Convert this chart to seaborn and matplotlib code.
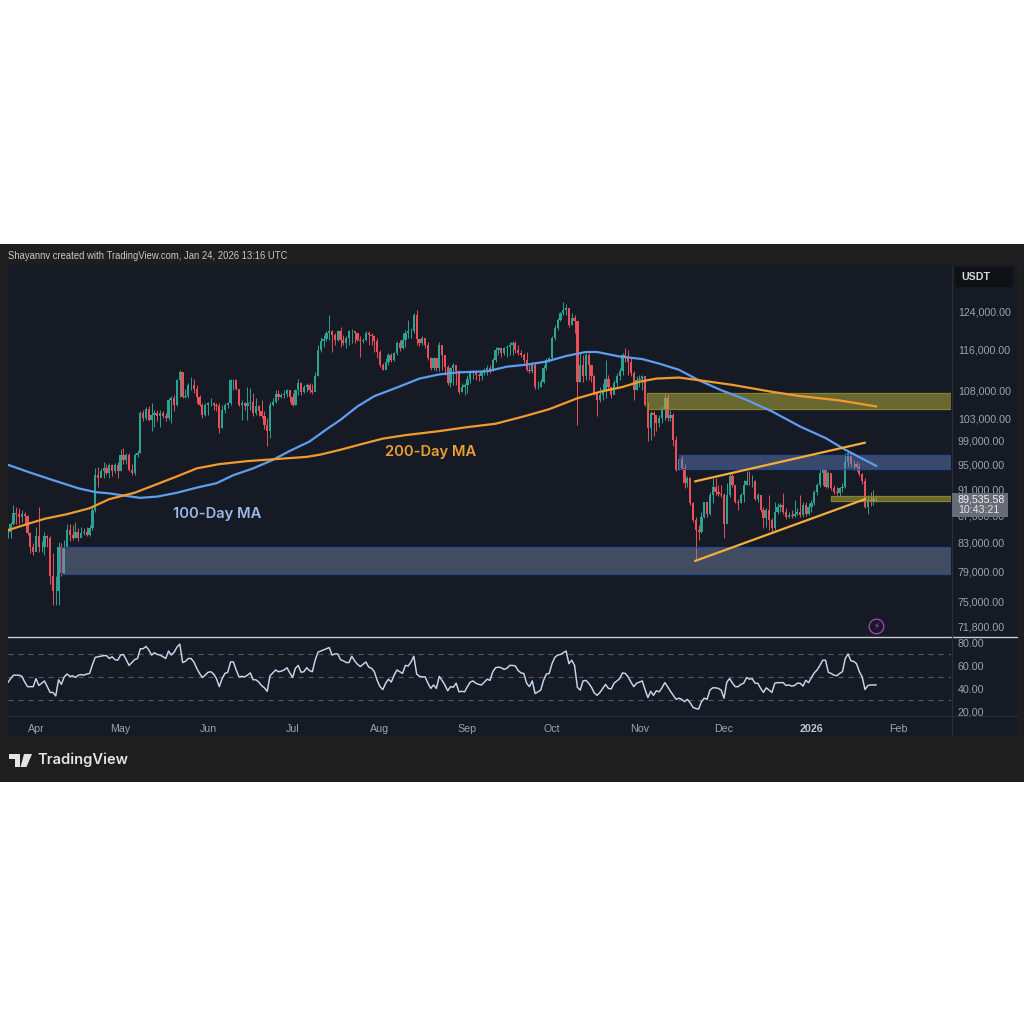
import matplotlib
matplotlib.use("Agg")
import matplotlib.pyplot as plt
from matplotlib.patches import Rectangle, Polygon
from matplotlib.ticker import FixedLocator, NullLocator
import numpy as np
import pandas as pd
import seaborn as sns

# BTC/USDT daily candles, in thousands of USDT. Day 0 is 1 April 2025.
first_day = -10
close_k = [
84.6,85.8,87.4,87.2,86.8,87.2,86.9,84.4,82.4,81.7,
83.9,82.4,82.4,83.9,83.6,78.3,76.3,76.3,82.4,78.8,82.4,84.8,84.1,83.6,84.6,83.6,84.4,84.6,84.1,85.1,
87.8,93.3,92.8,93.9,94.4,93.6,95.0,93.9,95.0,93.9,96.6,95.8,96.6,94.1,93.6,96.6,96.9,103.9,103.0,104.6,
102.7,103.6,103.9,103.4,103.9,103.4,103.0,106.3,106.6,105.4,110.0,111.6,106.9,107.0,109.1,109.1,108.4,106.9,105.4,103.6,
105.4,105.7,105.7,105.4,105.1,101.2,104.5,105.4,105.8,110.1,110.1,108.4,105.4,105.7,105.2,105.7,106.0,103.9,105.1,104.2,
103.4,101.8,100.7,105.4,106.0,107.4,106.8,107.2,107.4,108.1,106.9,105.4,108.1,109.4,107.8,108.7,109.1,108.1,107.8,110.7,
116.0,117.7,118.1,119.3,119.7,119.0,118.0,119.7,118.0,117.3,118.3,119.7,119.7,119.3,118.0,117.7,118.0,119.3,119.0,118.7,
117.7,115.6,112.9,112.0,113.6,114.9,113.9,115.3,117.3,116.3,118.0,119.3,119.7,119.7,123.2,118.1,117.3,118.3,117.0,114.3,
112.3,114.3,112.3,117.0,114.9,112.6,109.4,112.3,112.9,111.7,107.8,108.7,109.1,110.3,111.4,111.7,111.0,110.7,111.7,112.0,
112.3,112.0,113.9,115.9,116.3,115.3,116.3,116.6,117.0,117.3,115.9,115.3,114.9,113.9,112.0,111.7,112.9,108.7,108.7,109.7,
112.3,113.9,114.3,118.3,120.4,122.1,123.5,124.2,124.6,121.1,122.5,121.8,109.7,112.9,110.7,114.9,112.9,110.7,107.5,106.3,
107.2,108.1,110.3,108.7,107.2,109.4,110.7,111.7,114.9,114.3,113.6,111.4,108.1,110.0,110.3,110.7,105.4,101.2,103.9,103.6,
102.1,103.0,104.5,106.6,103.0,103.6,99.2,94.1,96.0,94.4,92.0,92.8,88.9,86.3,84.9,84.6,86.8,89.0,87.3,90.1,
91.4,90.6,90.3,90.1,85.8,90.1,93.1,91.7,89.1,88.9,90.1,91.7,92.4,92.3,92.3,89.6,90.1,87.8,86.6,87.8,
86.3,85.1,87.6,88.3,88.6,87.6,86.8,87.1,86.9,87.3,87.6,87.1,88.6,87.2,88.3,88.9,90.6,91.7,93.6,94.1,
91.4,93.6,91.2,90.6,90.4,91.2,91.4,95.5,96.9,95.2,95.2,94.7,93.5,92.3,88.3,89.4,89.1,89.6,89.536,
]
high_k = [
85.1,86.0,88.6,88.3,88.1,87.8,87.6,87.1,84.6,82.9,
85.3,88.3,83.2,84.6,84.1,83.9,81.5,78.3,83.1,82.9,83.4,85.8,85.8,85.6,86.0,85.1,85.3,85.1,85.3,85.6,
88.3,94.4,94.7,94.4,95.5,95.2,95.3,95.2,95.3,95.5,97.6,97.8,97.0,96.9,95.2,96.9,97.5,104.2,104.5,105.0,
105.1,105.7,104.5,104.4,104.4,104.2,103.9,106.6,107.0,107.2,110.3,111.9,111.6,108.4,109.4,110.6,110.3,109.1,107.2,105.7,
105.7,106.0,106.6,106.0,105.7,105.7,105.4,105.7,106.0,110.3,110.3,110.3,108.4,106.2,106.0,108.7,108.6,107.5,106.6,105.4,
106.3,104.2,103.0,106.0,106.6,108.1,108.1,107.5,108.2,108.4,108.2,107.5,108.4,110.3,109.7,109.1,109.4,109.4,109.2,111.6,
117.0,118.6,119.0,119.7,123.2,120.0,119.3,120.0,120.6,119.0,118.7,120.0,120.2,119.7,119.3,118.7,118.4,119.7,119.7,119.3,
119.0,118.4,115.9,113.3,114.3,115.3,115.3,115.6,117.7,118.0,119.3,120.0,122.1,120.4,123.5,124.2,118.1,118.7,118.3,117.5,
114.6,114.6,114.3,117.5,117.0,114.9,112.9,112.6,113.3,112.9,112.0,109.4,109.5,111.0,112.0,112.0,112.0,111.4,112.0,112.3,
112.9,112.9,114.3,116.6,116.6,116.3,116.6,117.0,117.5,117.7,117.7,117.0,115.9,115.3,115.6,112.9,113.6,113.3,109.9,110.3,
112.9,114.3,114.6,118.7,121.1,122.5,123.9,126.0,125.6,124.6,123.5,123.2,121.8,115.3,114.9,115.3,115.3,112.9,111.0,107.8,
108.7,109.4,113.9,111.0,108.7,110.0,111.4,112.3,115.3,116.3,115.9,114.3,111.7,110.7,111.0,111.0,110.7,106.0,104.2,104.2,
103.6,103.6,105.1,107.4,107.4,104.5,103.9,99.8,96.6,96.4,95.2,93.1,93.0,89.1,86.8,85.6,87.6,89.1,88.3,90.6,
92.8,92.8,91.7,91.7,90.4,92.0,93.6,93.6,91.7,89.6,90.4,92.5,93.9,93.9,93.3,92.5,90.4,90.1,88.3,88.1,
90.1,86.6,89.1,88.9,88.9,90.4,88.1,87.6,87.8,89.3,88.1,90.1,89.1,89.1,88.9,89.3,91.0,92.0,94.4,94.5,
94.1,93.9,93.7,91.7,91.4,91.4,92.0,96.9,97.2,97.2,95.8,95.6,95.3,93.6,92.8,90.1,90.6,91.0,90.1,
]
low_k = [
83.6,83.6,85.6,85.8,85.8,86.0,85.8,84.1,81.5,81.2,
82.2,81.7,81.7,81.2,82.4,77.2,74.5,74.5,74.5,78.3,78.6,82.7,83.2,83.4,83.6,83.2,83.9,84.1,83.9,83.9,
84.8,87.6,91.4,93.0,92.8,93.3,92.8,93.1,93.6,92.8,93.9,95.2,95.2,93.9,93.3,93.3,96.3,96.9,102.4,102.7,
102.4,100.7,101.4,102.4,101.5,103.0,102.4,102.7,102.1,104.2,105.1,106.9,106.6,106.6,106.6,108.1,107.5,105.7,105.1,103.0,
103.3,103.6,105.1,104.5,104.2,100.4,101.2,103.9,104.8,105.4,108.1,108.1,105.1,102.7,104.5,102.6,104.5,103.4,103.6,103.3,
103.0,101.0,98.2,99.5,105.1,105.7,106.3,106.6,106.6,106.9,106.0,105.1,105.4,107.2,107.2,107.5,107.8,107.5,107.4,108.4,
110.7,115.6,116.6,117.7,118.0,115.6,117.0,117.7,116.6,117.0,116.3,117.0,117.3,117.3,117.7,114.6,117.3,117.7,117.0,117.0,
115.6,114.3,112.6,111.9,112.3,112.9,113.6,113.8,114.9,115.8,116.1,116.6,118.3,118.3,119.3,117.0,116.8,117.0,116.3,113.9,
112.0,112.0,111.7,111.7,112.0,111.0,109.1,108.7,109.1,109.1,107.4,107.8,107.2,107.5,109.4,110.3,110.0,109.9,110.0,111.0,
111.0,111.4,111.7,113.6,114.9,114.6,114.9,114.6,114.9,114.9,115.3,114.9,114.6,113.4,111.7,111.4,111.4,108.4,108.4,108.7,
109.4,112.0,113.6,113.9,118.0,120.0,121.8,123.2,123.2,120.7,121.1,119.3,101.8,109.7,109.7,110.0,110.0,109.7,107.2,103.4,
106.0,106.3,106.6,108.1,106.6,107.5,108.7,110.0,111.0,113.6,111.0,110.7,106.3,108.1,108.7,108.1,105.1,99.0,99.2,99.8,
100.7,101.5,102.1,102.7,102.4,102.4,98.1,93.9,94.2,94.1,91.2,91.4,88.6,86.0,80.6,83.4,84.4,86.6,86.8,87.1,
88.9,90.1,90.0,89.9,83.6,86.0,89.9,91.4,88.9,87.8,88.9,89.1,91.7,91.7,91.4,89.4,89.1,87.6,85.1,85.3,
84.9,84.6,84.8,87.3,87.6,87.3,86.4,86.6,86.6,86.8,87.1,86.7,86.8,86.9,87.1,87.6,88.6,90.1,91.4,91.7,
91.3,91.2,90.9,90.3,90.1,90.0,90.6,91.3,94.7,94.7,94.2,93.9,93.1,91.9,88.1,87.2,88.4,88.6,89.1,
]

# Moving averages: day number and value in thousands of USDT.
ma100_day = [-10,-2,6,15,21,26,32,37,43,50,57,64,70,77,84,90,97,103,108,114,120,128,136,143,150,160,167,174,181,188,195,199,207,215,221,228,235,243,252,261,271,280,287,298]
ma100_k = [95.0,93.7,92.5,91.2,90.6,90.4,90.0,89.7,89.9,90.5,91.3,92.0,93.3,94.4,95.8,97.3,98.9,101.0,102.7,105.1,107.0,108.6,110.3,111.1,111.5,111.7,112.6,113.0,113.6,114.7,115.5,115.5,114.6,114.1,113.2,112.0,110.0,108.1,106.3,104.2,101.5,99.5,97.5,94.8]
ma200_day = [-10,-4,3,11,19,26,35,42,50,57,65,75,84,96,101,108,115,123,131,143,153,163,173,182,192,200,208,214,220,228,235,247,261,271,285,298]
ma200_k = [84.8,85.6,86.5,87.2,88.1,89.5,90.5,91.7,93.1,94.4,95.1,95.6,95.9,96.3,96.7,97.5,98.4,99.4,100.0,100.7,101.4,102.0,103.3,104.6,106.6,107.8,108.7,109.7,110.3,110.5,110.0,109.1,107.8,107.0,106.2,105.1]

# RSI(14), one value per day.
rsi = [
45.5,49,52,52,52,51,46,42,42,42,
49,43,45,47,42,37,37,34,48,44,50.5,53,51,51.5,50,52,52.5,52,53,53.5,
61,67.5,68,68.5,69,69,66.5,68,65.5,65,69.5,70,65.5,60.5,63,65.5,66.5,75,75,77,
74,69.5,71.5,70,69.5,68,66.5,73,69.5,72,76.5,79,63,64,66.5,66.5,63.5,58,53.5,50,
52,54.5,55,53,49,42,49,53.5,54.5,63.5,63.5,56.5,50.5,51,50.5,52,54,48,48,46,
43,41,38,51.5,54,56.5,55,55.5,56.5,58.5,54,50,58,60.5,54.5,55,58.5,56,55,65,
72,73,74,75,76,69.5,70.5,70.5,65.5,64.5,63,63,68.5,64.5,61.5,59.5,61.5,63.5,59,58,
55,47.5,42,39.5,45,48.5,46,52,56.5,55,53.5,60.5,60,63.5,68.5,53,51,50.5,50.5,45,
40.5,43.5,40.5,51,47.5,43.5,38.5,42,41.5,45,37.5,38,37.5,42,46,47,45,44,43.5,46,
48.5,47.5,55,58.5,59,58.5,57,58,60.5,60.5,60,56,54,53.5,45,42,47,36,37.5,39,
47.5,53,53.5,62,67.5,69.5,70,71.5,73,62,65,60.5,41.5,39,47,47.5,45,41.5,36.5,34.5,
37,40.5,44,40.5,40,45,47,49,54,53.5,50.5,46,42,45,46,47,39.5,32.5,38,34.5,
38.5,37.5,41,45.5,42,38,34.5,31,32,31,29,31,28,24,23,22.5,29,32,31,39,
41,41,40.5,39,32,46,49,45,42,42,44,45,50,48.5,49,45,45,40.5,37,41,
39,37,45,45.5,45.5,45.5,43,43.5,42.5,43,45,45,42.5,47.5,45.5,50,54,56.5,60.5,65,
65,54.5,53.5,52,51.5,53.5,55,66.5,70.5,64.5,64,62,55,50.5,39.5,43,43.5,43.5,43.5,
]

# Support and resistance zones: (start day, lower bound, upper bound) in thousands.
yellow_zone = (216.6, 104.6, 107.5)
upper_blue_zone = (228, 94.3, 96.7)
lower_blue_zone = (9, 78.6, 82.4)
pivot_zone = (282, 89.2, 90.0)

# Rising channel drawn over the November to January range.
channel_day = [233.7, 294]
channel_upper_k = [92.3, 98.7]
channel_lower_k = [80.4, 89.5]

price_ticks = [124000, 116000, 108000, 103000, 99000, 95000, 91000, 87000, 83000, 79000, 75000, 71800]
rsi_ticks = [20, 40, 60, 80]
rsi_bands = [30, 50, 70]
month_days = [0, 30, 61, 91, 122, 153, 183, 214, 244, 275, 306]
month_labels = ["Apr", "May", "Jun", "Jul", "Aug", "Sep", "Oct", "Nov", "Dec", "2026", "Feb"]

PANEL = "#151a25"
FRAME = "#1e1e1e"
UP = "#2aa392"
DOWN = "#e9505a"
AXIS_TEXT = "#9ea2ac"
BLUE_MA = "#5f9df0"
ORANGE = "#f29a2e"
FONT = ["Liberation Sans", "DejaVu Sans"]

sns.set_theme(style="dark", rc={"axes.grid": False, "figure.facecolor": "white"})
plt.rcParams["font.family"] = FONT

W = H = 1024
fig = plt.figure(figsize=(W / 100, H / 100), dpi=100, facecolor="white")


def box(x0, y0, x1, y1):
    """Axes rectangle from pixel edges, with y counted from the top."""
    return [x0 / W, 1 - y1 / H, (x1 - x0) / W, (y1 - y0) / H]


# Dark screenshot frame with the panel behind the plots
fig.patches.append(Rectangle((0, 1 - 782 / H), 1, 538 / H, transform=fig.transFigure, fc=FRAME, ec="none", zorder=-3))
fig.patches.append(Rectangle((8 / W, 1 - 736 / H), 1009 / W, 471 / H, transform=fig.transFigure, fc=PANEL, ec="none", zorder=-2))

ax = fig.add_axes(box(8, 265, 951, 636))
ax_rsi = fig.add_axes(box(8, 637, 951, 716), sharex=ax)

candles = pd.DataFrame({"close": close_k, "high": high_k, "low": low_k}) * 1000
candles["day"] = np.arange(len(candles)) + first_day
candles["open"] = candles["close"].shift(1).fillna(84000.0)
rising = candles["close"] >= candles["open"]
colors = np.where(rising, UP, DOWN)

ax.set_facecolor(PANEL)
ax.set_yscale("log")
ax.vlines(candles["day"], candles["low"], candles["high"], colors=colors, lw=0.7, zorder=2)
ax.bar(
    candles["day"],
    (candles["close"] - candles["open"]).abs(),
    bottom=candles[["close", "open"]].min(axis=1),
    width=0.8,
    color=colors,
    linewidth=0,
    zorder=3,
)

x_end = 324.5
for start, low, high, face, edge, alpha in [
    (*lower_blue_zone, "#7f93b5", "#27488f", 0.42),
    (*upper_blue_zone, "#6a8cd0", "#27488f", 0.42),
    (*yellow_zone, "#b5b03c", "#85822c", 0.52),
    (*pivot_zone, "#b5b03c", "#85822c", 0.52),
]:
    ax.add_patch(Rectangle((start, low * 1000), x_end - start, (high - low) * 1000, fc=face, alpha=alpha, ec="none", zorder=4))
    ax.add_patch(Rectangle((start, low * 1000), x_end - start, (high - low) * 1000, fc="none", ec=edge, lw=0.9, zorder=4))

ma100 = pd.DataFrame({"day": ma100_day, "value": np.array(ma100_k) * 1000})
ma200 = pd.DataFrame({"day": ma200_day, "value": np.array(ma200_k) * 1000})
sns.lineplot(data=ma100, x="day", y="value", ax=ax, color=BLUE_MA, lw=1.6, zorder=6, estimator=None, sort=False)
sns.lineplot(data=ma200, x="day", y="value", ax=ax, color=ORANGE, lw=1.6, zorder=6, estimator=None, sort=False)
for levels in (channel_upper_k, channel_lower_k):
    ax.plot(channel_day, np.array(levels) * 1000, color="#f5ad3c", lw=1.6, zorder=7, solid_capstyle="round")

ax.text(64.2, 87300, "100-Day MA", color="#9db9e6", fontsize=10.6, family="Inter", weight="semibold", ha="center", va="center", zorder=8)
ax.text(140, 97100, "200-Day MA", color="#eda02f", fontsize=10.6, family="Inter", weight="semibold", ha="center", va="center", zorder=8)

# Alert badge near the bottom of the price pane
ax.plot([298], [71800], marker="o", ms=10.5, mfc="none", mec="#a23fb5", mew=1, zorder=8, clip_on=False)
ax.text(298, 71800, "\u26a1", color="#b04cc4", fontsize=6.5, family="DejaVu Sans", ha="center", va="center", zorder=9)

ax.set_xlim(-9.93, x_end)
ax.set_ylim(70600, 134300)
ax.yaxis.tick_right()
ax.yaxis.set_major_locator(FixedLocator(price_ticks))
ax.yaxis.set_minor_locator(NullLocator())
ax.set_yticklabels([f"{t:,.2f}" for t in price_ticks])
ax.tick_params(axis="y", length=0, pad=5, labelsize=7.7, labelcolor=AXIS_TEXT)
ax.tick_params(axis="x", length=0, labelbottom=False)
ax.set_xlabel("")
ax.set_ylabel("")
for spine in ax.spines.values():
    spine.set_visible(False)

rsi_frame = pd.DataFrame({"day": np.arange(len(rsi)) + first_day, "rsi": rsi})
ax_rsi.set_facecolor(PANEL)
for level in rsi_bands:
    ax_rsi.axhline(level, color="#555b68", lw=0.8, dashes=(4.5, 4.5), zorder=1)
sns.lineplot(data=rsi_frame, x="day", y="rsi", ax=ax_rsi, color="#c6d8ee", lw=1.05, zorder=3)
ax_rsi.set_ylim(16.5, 85.2)
ax_rsi.yaxis.tick_right()
ax_rsi.set_yticks(rsi_ticks)
ax_rsi.set_yticklabels([f"{t:.2f}" for t in rsi_ticks])
ax_rsi.tick_params(axis="y", length=0, pad=5, labelsize=7.7, labelcolor=AXIS_TEXT)
ax_rsi.set_xticks(month_days)
ax_rsi.set_xticklabels(month_labels)
ax_rsi.tick_params(axis="x", length=0, pad=6, labelsize=7.7, labelcolor=AXIS_TEXT)
for label in ax_rsi.get_xticklabels():
    if label.get_text() == "2026":
        label.set_fontweight("bold")
        label.set_color("#c3c6cd")
ax_rsi.set_xlabel("")
ax_rsi.set_ylabel("")
for spine in ax_rsi.spines.values():
    spine.set_visible(False)

# Pane separators and the border of the price scale
fig.add_artist(plt.Line2D([8 / W, 1017 / W], [1 - 636.5 / H] * 2, color="#c9ccd3", lw=1.0))
fig.add_artist(plt.Line2D([8 / W, 1017 / W], [1 - 716 / H] * 2, color="#262c3a", lw=0.8))
fig.add_artist(plt.Line2D([951.5 / W] * 2, [1 - 265 / H, 1 - 736 / H], color="#2a2f3b", lw=0.8))

# Currency tag above the price scale
fig.patches.append(Rectangle((955 / W, 1 - 287 / H), 58 / W, 20 / H, transform=fig.transFigure, fc="#101114", ec="none", zorder=5))
fig.text(961 / W, 1 - 277 / H, "USDT", color="#d4d6db", fontsize=7.7, weight="bold", va="center", zorder=6)

# Last price tag, drawn over the price scale
tag = Rectangle((952 / W, 1 - 517 / H), 56 / W, 24 / H, transform=fig.transFigure, fc="#686c76", ec="none", zorder=5)
fig.patches.append(tag)
fig.text(958 / W, 1 - 499.5 / H, "89,535.58", color="#f1f2f4", fontsize=7.7, va="center", zorder=6)
fig.text(958 / W, 1 - 510 / H, "10:43:21", color="#e2e3e6", fontsize=7.7, va="center", zorder=6)

# Header and footer
fig.text(8 / W, 1 - 256 / H, "Shayannv created with TradingView.com, Jan 24, 2026 13:16 UTC", color="#c8c8c8", fontsize=6.85, va="center")
fig.text(37 / W, 1 - 760 / H, "TradingView", color="#e4e4e4", fontsize=10.6, family="Inter", weight="semibold", va="center")
for points in (
    [(9, 754), (20, 754), (20, 767), (15, 767), (15, 759), (9, 759)],
    [(24, 754), (32, 754), (26.5, 767), (20.5, 767)],
):
    fig.patches.append(Polygon([(x / W, 1 - y / H) for x, y in points], transform=fig.transFigure, fc="#e4e4e4", ec="none"))

fig.savefig("out.png", dpi=100, facecolor="white")
